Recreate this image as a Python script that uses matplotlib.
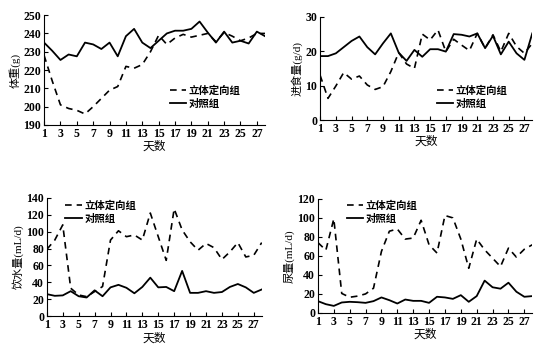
import numpy as np
import matplotlib
matplotlib.use('Agg')
import matplotlib.pyplot as plt

plt.rcParams['font.family'] = ['Liberation Serif', 'Noto Sans CJK SC']
plt.rcParams['font.weight'] = 'bold'

days = np.arange(1, 29)
xticks = list(range(1, 28, 2))

# body weight (g)
weight_exp = [228, 214, 201, 199, 198, 196, 200, 204.5, 209, 211, 222, 221, 223, 230,
              239, 234, 237.5, 239.5, 238, 239, 240, 235.5, 240.5, 238.5, 236, 237.5, 240, 240]
weight_ctl = [235, 230.5, 225.5, 228.5, 227.5, 235, 234, 231.5, 235, 227.5, 238.5, 242.5, 235, 232,
              236, 240, 241.5, 241.5, 242.5, 246.5, 240.5, 235, 241, 235, 236, 234.5, 241, 238.5]

# food intake (g/d)
food_exp = [13, 6.3, 9.9, 13.8, 11.9, 12.8, 10.2, 8.9, 9.7, 14.1, 19.6, 16.3, 15, 25,
            23.3, 26.2, 19.9, 23.5, 21.8, 20.2, 25.2, 20.9, 24.8, 19.9, 25.2, 21.4, 19.4, 22.3]
food_ctl = [18.6, 18.6, 19.4, 21.2, 23, 24.3, 21.2, 19.1, 22.3, 25.2, 19.6, 17.2, 20.4, 18.4,
            20.6, 20.6, 19.9, 25, 24.8, 24.3, 25.2, 20.9, 24.5, 19.1, 22.8, 19.4, 17.5, 25.2]

# water intake (mL/d)
water_exp = [79, 90, 108, 33, 25, 23, 29, 35, 90, 101, 94, 96, 90, 122,
             94, 66, 127, 102, 88, 78, 86, 81, 67, 76, 87, 70, 72, 87]
water_ctl = [26, 24, 24.5, 29.5, 23.5, 22, 30.5, 23.5, 34, 37, 33.5, 27, 34.5, 45.5,
             34, 34.5, 29.5, 53.5, 27.5, 27.5, 29.5, 27.5, 28.5, 34.5, 38, 34, 27.5, 31.5]

# urine volume (mL/d)
urine_exp = [74, 66, 99, 20.5, 16.5, 17.7, 20, 26, 64.7, 86, 88.3, 77.7, 78.8, 97.5,
             71.7, 63, 102.5, 100, 77.7, 47, 77.7, 66.4, 57.6, 48.8, 68.2, 58.7, 67, 71.7]
urine_ctl = [12.4, 9.2, 7.4, 11, 11.7, 11.3, 10.6, 12.4, 16.3, 13.4, 9.9, 14.1, 12.7, 12.7,
             10.6, 17, 16.3, 14.8, 18.7, 11.7, 17.7, 34, 27, 25.5, 31.8, 22.3, 17, 17.7]

labels = ['立体定向组', '对照组']

fig = plt.figure(figsize=(5.51, 3.52), dpi=100)

panels = [
    # rect, exp, ctl, ylim, yticks, ylabel, legend anchor
    ([0.080, 0.645, 0.401, 0.312], weight_exp, weight_ctl, (190, 250),
     range(190, 251, 10), '体重(g)', (0.535, 0.43)),
    ([0.581, 0.659, 0.385, 0.293], food_exp, food_ctl, (0, 30),
     range(0, 31, 10), '进食量(g/d)', (0.515, 0.41)),
    ([0.085, 0.102, 0.390, 0.336], water_exp, water_ctl, (0, 140),
     range(0, 141, 20), '饮水量(mL/d)', (0.05, 1.04)),
    ([0.577, 0.111, 0.389, 0.324], urine_exp, urine_ctl, (0, 120),
     range(0, 121, 20), '尿量(mL/d)', (0.10, 1.05)),
]

for rect, exp, ctl, ylim, yt, ylab, anchor in panels:
    ax = fig.add_axes(rect)
    ax.plot(days, exp, color='black', lw=1.2, linestyle=(0, (4, 3)), label=labels[0])
    ax.plot(days, ctl, color='black', lw=1.3, label=labels[1])
    ax.set_xlim(1, 28)
    ax.set_ylim(*ylim)
    ax.set_xticks(xticks)
    ax.set_yticks(list(yt))
    ax.spines['top'].set_visible(False)
    ax.spines['right'].set_visible(False)
    ax.tick_params(direction='in', length=3, labelsize=8.5, pad=2)
    ax.set_xlabel('天数', fontsize=8.5, labelpad=1)
    ax.set_ylabel(ylab, fontsize=8, labelpad=2)
    ax.legend(loc='upper left', bbox_to_anchor=anchor, frameon=False, fontsize=7.5,
              handlelength=1.6, handletextpad=0.25, labelspacing=0.3, borderpad=0.2)

fig.savefig('out.png', dpi=100)
